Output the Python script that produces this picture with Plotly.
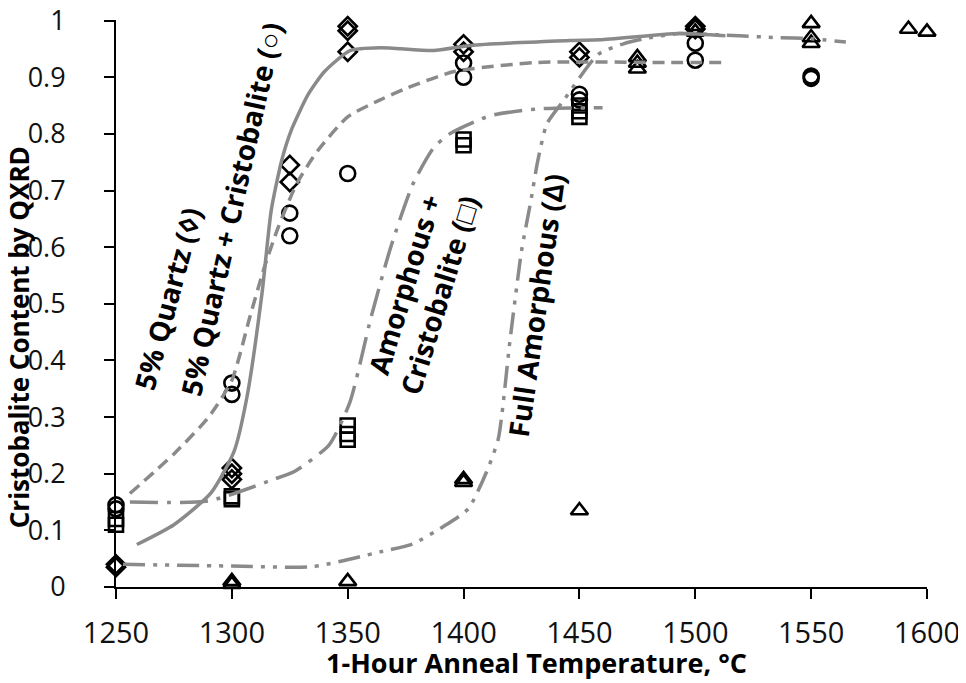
import plotly.graph_objects as go

# ---------------- data ----------------
quartz_x = [1250, 1250, 1300, 1300, 1300, 1325, 1325, 1350, 1350, 1350, 1400, 1400, 1450, 1450, 1500, 1500]
quartz_y = [0.035, 0.04, 0.19, 0.20, 0.21, 0.715, 0.745, 0.945, 0.982, 0.99, 0.945, 0.958, 0.935, 0.945, 0.985, 0.99]

qcrist_x = [1250, 1250, 1300, 1300, 1325, 1325, 1350, 1400, 1400, 1450, 1450, 1500, 1500, 1550, 1550]
qcrist_y = [0.138, 0.145, 0.34, 0.36, 0.62, 0.66, 0.73, 0.90, 0.925, 0.86, 0.87, 0.93, 0.96, 0.898, 0.902]

amcrist_x = [1250, 1250, 1300, 1300, 1350, 1350, 1350, 1400, 1400, 1450, 1450, 1450]
amcrist_y = [0.11, 0.12, 0.155, 0.16, 0.26, 0.27, 0.285, 0.78, 0.79, 0.83, 0.84, 0.85]

fullam_x = [1300, 1300, 1350, 1400, 1400, 1450, 1475, 1475, 1475, 1500, 1500, 1550, 1550, 1550, 1592, 1600]
fullam_y = [0.005, 0.01, 0.01, 0.185, 0.19, 0.135, 0.915, 0.925, 0.935, 0.98, 0.99, 0.96, 0.97, 0.995, 0.985, 0.98]

# fitted trend curves
fit_quartz_x = [1259, 1275, 1291, 1301, 1306.5, 1313, 1317, 1321.5, 1326, 1333, 1340, 1351, 1364, 1387, 1403, 1446, 1459, 1493, 1513]
fit_quartz_y = [0.075, 0.11, 0.166, 0.24, 0.335, 0.518, 0.665, 0.753, 0.81, 0.87, 0.91, 0.947, 0.952, 0.947, 0.956, 0.965, 0.966, 0.977, 0.973]

fit_qcrist_x = [1256, 1275, 1290, 1300, 1308, 1314, 1320, 1328, 1337, 1350, 1364, 1375, 1396, 1432, 1489, 1513]
fit_qcrist_y = [0.165, 0.235, 0.30, 0.365, 0.48, 0.564, 0.635, 0.712, 0.77, 0.83, 0.86, 0.88, 0.91, 0.926, 0.926, 0.926]

fit_amcrist_x = [1256, 1290, 1318, 1327, 1342, 1351, 1360, 1368.5, 1378, 1387, 1394, 1411.5, 1432, 1460]
fit_amcrist_y = [0.15, 0.152, 0.19, 0.204, 0.251, 0.327, 0.475, 0.599, 0.71, 0.775, 0.80, 0.832, 0.844, 0.846]

fit_fullam_x = [1253, 1300, 1335, 1364, 1378, 1391, 1402, 1410, 1415, 1420, 1425, 1429, 1432, 1436, 1443, 1458, 1469, 1478, 1493, 1519, 1535, 1550, 1565]
fit_fullam_y = [0.04, 0.037, 0.036, 0.062, 0.076, 0.106, 0.138, 0.204, 0.262, 0.434, 0.593, 0.681, 0.752, 0.818, 0.858, 0.94, 0.959, 0.968, 0.977, 0.973, 0.97, 0.968, 0.962]

x_ticks = [1250, 1300, 1350, 1400, 1450, 1500, 1550, 1600]
y_ticks = [0, 0.1, 0.2, 0.3, 0.4, 0.5, 0.6, 0.7, 0.8, 0.9, 1]
y_ticktext = ["0", "0.1", "0.2", "0.3", "0.4", "0.5", "0.6", "0.7", "0.8", "0.9", "1"]

FONT = "Open Sans"
GRAY = "#8a8a8a"

fig = go.Figure()

# markers
marker_line = dict(color="black", width=2.6)
for xs, ys, sym, sz in [
    (quartz_x, quartz_y, "diamond-open", 14),
    (qcrist_x, qcrist_y, "circle-open", 15),
    (amcrist_x, amcrist_y, "square-open", 14),
    (fullam_x, fullam_y, "triangle-up-open", 15),
]:
    fig.add_trace(go.Scatter(
        x=xs, y=ys, mode="markers", cliponaxis=False, showlegend=False,
        marker=dict(symbol=sym, size=sz, color="black", line=marker_line),
    ))

# trend curves
for xs, ys, dash in [
    (fit_quartz_x, fit_quartz_y, "solid"),
    (fit_qcrist_x, fit_qcrist_y, "12px,7px"),
    (fit_amcrist_x, fit_amcrist_y, "28px,9px,4px,9px"),
    (fit_fullam_x, fit_fullam_y, "22px,8px,4px,8px,4px,8px"),
]:
    fig.add_trace(go.Scatter(
        x=xs, y=ys, mode="lines", showlegend=False, cliponaxis=False,
        line=dict(color=GRAY, width=3.5, dash=dash, shape="spline", smoothing=0.6),
    ))

ann_font = dict(family=FONT, size=28, color="black")
annotations = [
    dict(x=1272.4, y=0.51, text="<b>5% Quartz (\u25CA)</b>", textangle=-75),
    dict(x=1299.6, y=0.668, text="<b>5% Quartz + Cristobalite (\u25CB)</b>", textangle=-77.5),
    dict(x=1381.9, y=0.524, text="<b>Amorphous +<br>Cristobalite (\u25A1)</b>", textangle=-73),
    dict(x=1431.5, y=0.497, text="<b>Full Amorphous (\u0394)</b>", textangle=-82),
]
for a in annotations:
    fig.add_annotation(xref="x", yref="y", showarrow=False, font=ann_font,
                       xanchor="center", yanchor="middle", **a)

# axis titles as annotations for exact placement
fig.add_annotation(xref="paper", yref="paper", x=0.519, y=-0.134, showarrow=False,
                   xanchor="center", yanchor="middle",
                   text="<b>1-Hour Anneal Temperature, °C</b>",
                   font=dict(family=FONT, size=27, color="black"))
fig.add_annotation(xref="paper", yref="paper", x=-0.12, y=0.44, showarrow=False,
                   xanchor="center", yanchor="middle",
                   text="<b>Cristobalite Content by QXRD</b>", textangle=-90,
                   font=dict(family=FONT, size=26, color="black"))

# the page body has an 8px default margin, so the figure is sized/offset to compensate
fig.update_layout(
    width=958, height=675,
    margin=dict(l=108, r=39, t=12, b=96),
    paper_bgcolor="white", plot_bgcolor="white",
    font=dict(family=FONT, color="black"),
    xaxis=dict(
        range=[1250, 1600], tickvals=x_ticks, showgrid=False, zeroline=False,
        showline=True, linecolor="black", linewidth=2, automargin=False,
        ticks="outside", ticklen=10, tickwidth=2, tickcolor="black",
        tickfont=dict(family=FONT, size=29, color="#111"), ticklabelstandoff=9,
        ticklabeloverflow="allow",
    ),
    yaxis=dict(
        range=[0, 1.001], tickvals=y_ticks, ticktext=y_ticktext, showgrid=False, zeroline=False,
        showline=True, linecolor="black", linewidth=2, automargin=False,
        ticks="outside", ticklen=10, tickwidth=2, tickcolor="black",
        tickfont=dict(family=FONT, size=27, color="#111"), ticklabelstandoff=33,
        ticklabeloverflow="allow",
    ),
)

fig.write_html("out.html")
